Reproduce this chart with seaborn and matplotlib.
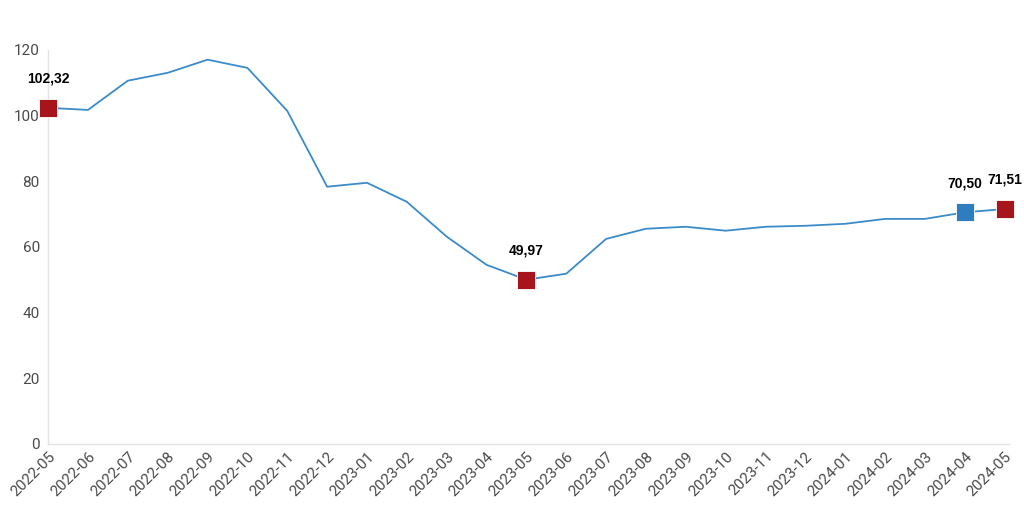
import numpy as np
import pandas as pd
import matplotlib.pyplot as plt
import seaborn as sns

sns.set_style("white")
plt.rcParams['font.family'] = ['Roboto', 'DejaVu Sans']

months = ["2022-05", "2022-06", "2022-07", "2022-08", "2022-09", "2022-10",
          "2022-11", "2022-12", "2023-01", "2023-02", "2023-03", "2023-04",
          "2023-05", "2023-06", "2023-07", "2023-08", "2023-09", "2023-10",
          "2023-11", "2023-12", "2024-01", "2024-02", "2024-03", "2024-04",
          "2024-05"]
values = [102.32, 101.7, 110.6, 113.0, 117.0, 114.5, 101.4, 78.3, 79.5, 73.7,
          63.1, 54.5, 49.97, 51.8, 62.4, 65.5, 66.1, 64.9, 66.1, 66.4,
          67.0, 68.5, 68.5, 70.50, 71.51]

# highlighted points: index, colour
highlight_idx = [0, 12, 23, 24]
highlight_col = ["#A8141C", "#A8141C", "#2E7DBF", "#A8141C"]

df = pd.DataFrame({"month": months, "value": values})
df["pos"] = np.arange(len(df))

fig = plt.figure(figsize=(10.24, 5.19), dpi=100)
ax = fig.add_axes([0.047, 0.145, 0.938, 0.759])

sns.lineplot(data=df, x="pos", y="value", color="#3B8BC9", lw=1.3, ax=ax)

for i, c in zip(highlight_idx, highlight_col):
    ax.scatter(df["pos"][i], df["value"][i], marker="s", s=160, color=c,
               edgecolor="white", linewidth=0.6, zorder=4, clip_on=False)
    lbl = f"{df['value'][i]:.2f}".replace(".", ",")
    ax.annotate(lbl, (df["pos"][i], df["value"][i]), xytext=(0, 16),
                textcoords="offset points", ha="center", va="bottom",
                fontsize=10, fontweight="bold", color="black",
                family=["Liberation Sans", "DejaVu Sans"])

ax.set_xlim(0, 24.1)
ax.set_ylim(0, 120)
ax.set_yticks(range(0, 121, 20))
ax.set_xticks(df["pos"])
ax.set_xticklabels(months, rotation=45, ha="right", rotation_mode="anchor")
ax.tick_params(axis="both", colors="#4a4a4a", labelsize=11, length=0, pad=6)
ax.tick_params(axis="x", pad=4)
ax.set_xlabel("")
ax.set_ylabel("")

sns.despine(ax=ax)
for s in ["left", "bottom"]:
    ax.spines[s].set_color("#e3e3e3")
    ax.spines[s].set_linewidth(1.0)

fig.savefig("out.png", dpi=100)
